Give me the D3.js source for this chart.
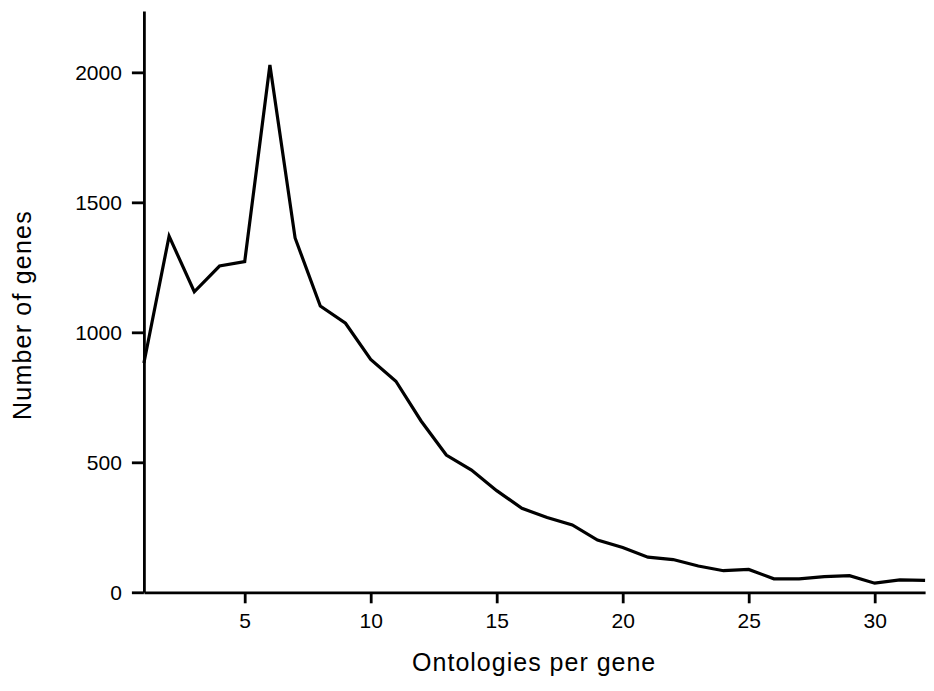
<!DOCTYPE html>
<html>
<head>
<meta charset="utf-8">
<script src="https://cdn.jsdelivr.net/npm/d3@7"></script>
<style>
  html, body { margin: 0; padding: 0; background: #fff; }
  svg { display: block; }
  text { font-family: "Liberation Sans", Arial, sans-serif; fill: #000; }
</style>
</head>
<body>
<svg id="chart" width="934" height="691"></svg>
<script>
const ontologiesPerGene = d3.range(1, 33);
const numberOfGenes = [882, 1370, 1156, 1255, 1272, 2028, 1363, 1101, 1035, 896,
                       812, 659, 528, 470, 391, 323, 288, 259, 201, 172,
                       135, 126, 101, 83, 88, 52, 52, 60, 64, 35,
                       48, 46];
const xTicks = [5, 10, 15, 20, 25, 30];
const yTicks = [0, 500, 1000, 1500, 2000];
const xTitle = "Ontologies per gene";
const yTitle = "Number of genes";

const svg = d3.select("#chart");
const x = d3.scaleLinear().domain([1, 32]).range([143.9, 925.1]);
const y = d3.scaleLinear().domain([0, 2236]).range([592.3, 11]);

const xAxis = svg.append("g")
  .attr("transform", `translate(0,${y(0)})`)
  .call(d3.axisBottom(x).tickValues(xTicks).tickSize(11).tickSizeOuter(0).tickPadding(10).tickFormat(d3.format("d")));
const yAxis = svg.append("g")
  .attr("transform", `translate(${x(1)},0)`)
  .call(d3.axisLeft(y).tickValues(yTicks).tickSize(12).tickSizeOuter(0).tickPadding(10).tickFormat(d3.format("d")));

[xAxis, yAxis].forEach(g => {
  g.select(".domain").attr("stroke", "#000").attr("stroke-width", 2.8);
  g.selectAll(".tick line").attr("stroke", "#000").attr("stroke-width", 2.8);
  g.selectAll(".tick text").style("font-size", "21px").attr("fill", "#000");
});

const line = d3.line()
  .x((d, i) => x(ontologiesPerGene[i]))
  .y(d => y(d));

svg.append("path")
  .datum(numberOfGenes)
  .attr("d", line)
  .attr("fill", "none")
  .attr("stroke", "#000")
  .attr("stroke-width", 3.2)
  .attr("stroke-linejoin", "miter");

svg.append("text")
  .attr("x", 534.2)
  .attr("y", 671)
  .attr("text-anchor", "middle")
  .style("font-size", "25px")
  .style("letter-spacing", "1px")
  .text(xTitle);

svg.append("text")
  .attr("transform", "translate(31,315) rotate(-90)")
  .attr("text-anchor", "middle")
  .style("font-size", "25px")
  .style("letter-spacing", "1.2px")
  .text(yTitle);
</script>
</body>
</html>
